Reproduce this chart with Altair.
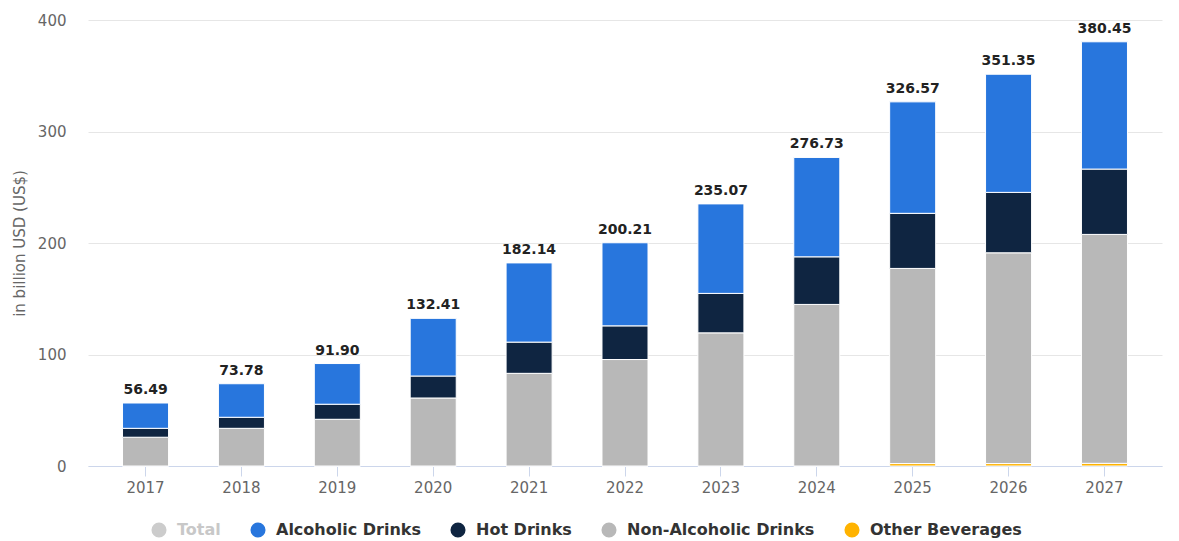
import altair as alt
import pandas as pd

years = ["2017", "2018", "2019", "2020", "2021", "2022", "2023", "2024", "2025", "2026", "2027"]
totals = [56.49, 73.78, 91.90, 132.41, 182.14, 200.21, 235.07, 276.73, 326.57, 351.35, 380.45]
alcoholic = [22.69, 30.08, 36.50, 51.71, 71.04, 74.51, 80.27, 89.13, 99.97, 105.95, 114.15]
hot = [8.0, 9.9, 13.5, 19.7, 28.0, 30.2, 35.4, 42.7, 49.4, 54.2, 58.6]
non_alcoholic = [25.8, 33.8, 41.9, 61.0, 83.1, 95.5, 119.4, 144.9, 175.0, 189.0, 205.3]
other = [0, 0, 0, 0, 0, 0, 0, 0, 2.2, 2.2, 2.4]

series_names = ["Total", "Alcoholic Drinks", "Hot Drinks", "Non-Alcoholic Drinks", "Other Beverages"]
series_colors = ["#cccccc", "#2876dd", "#0f2541", "#b8b8b8", "#ffb300"]

rows = []
for name, vals, order in [
    ("Other Beverages", other, 0),
    ("Non-Alcoholic Drinks", non_alcoholic, 1),
    ("Hot Drinks", hot, 2),
    ("Alcoholic Drinks", alcoholic, 3),
]:
    for y, v in zip(years, vals):
        rows.append({"year": y, "series": name, "value": v, "ord": order})
df = pd.DataFrame(rows)
tot_df = pd.DataFrame({"year": years, "total": totals})

FONT = "DejaVu Sans"

x_enc = alt.X(
    "year:N",
    title=None,
    sort=years,
    scale=alt.Scale(paddingInner=0.52, paddingOuter=0.36),
    axis=alt.Axis(
        labelAngle=0,
        labelFont=FONT,
        labelFontSize=15,
        labelColor="#666666",
        labelPadding=4,
        domainColor="#ccd6eb",
        domainWidth=1,
        tickColor="#ccd6eb",
        tickSize=10,
        grid=False,
    ),
)

bars = alt.Chart(df).mark_bar(stroke="white", strokeWidth=1).encode(
    x=x_enc,
    y=alt.Y(
        "value:Q",
        stack="zero",
        title="in billion USD (US$)",
        scale=alt.Scale(domain=[0, 400], nice=False),
        axis=alt.Axis(
            values=[0, 100, 200, 300, 400],
            labelFont=FONT,
            labelFontSize=15,
            labelColor="#666666",
            labelPadding=22,
            domain=False,
            ticks=False,
            gridColor="#e6e6e6",
            gridWidth=1,
            titleFont=FONT,
            titleFontSize=15,
            titleFontWeight="normal",
            titleColor="#666666",
            titlePadding=10,
        ),
    ),
    color=alt.Color(
        "series:N",
        scale=alt.Scale(domain=series_names, range=series_colors),
        legend=alt.Legend(
            title=None,
            orient="none",
            direction="horizontal",
            legendX=63,
            legendY=502,
            symbolType="circle",
            symbolSize=227,
            symbolStrokeWidth=0,
            symbolOpacity=1,
            labelFont=FONT,
            labelFontSize=16,
            labelFontWeight="bold",
            labelColor={"expr": "datum.value == 'Total' ? '#c8c8c8' : '#333333'"},
            labelOffset=10,
            columnPadding=29,
            labelLimit=400,
        ),
    ),
    order=alt.Order("ord:Q", sort="ascending"),
)

labels = alt.Chart(tot_df).mark_text(
    font=FONT,
    fontSize=14,
    fontWeight="bold",
    color="#222222",
    baseline="alphabetic",
    dy=-9,
).encode(
    x=alt.X("year:N", sort=years),
    y=alt.Y("total:Q"),
    text=alt.Text("total:Q", format=".2f"),
)

chart = (
    alt.layer(bars, labels)
    .properties(
        width=1074,
        height=446,
        background="white",
        autosize=alt.AutoSizeParams(type="none"),
        padding={"left": 88, "top": 20, "right": 17, "bottom": 75},
    )
    .configure_view(strokeWidth=0)
)

chart.save("out.html", embed_options={"renderer": "svg", "actions": False})
